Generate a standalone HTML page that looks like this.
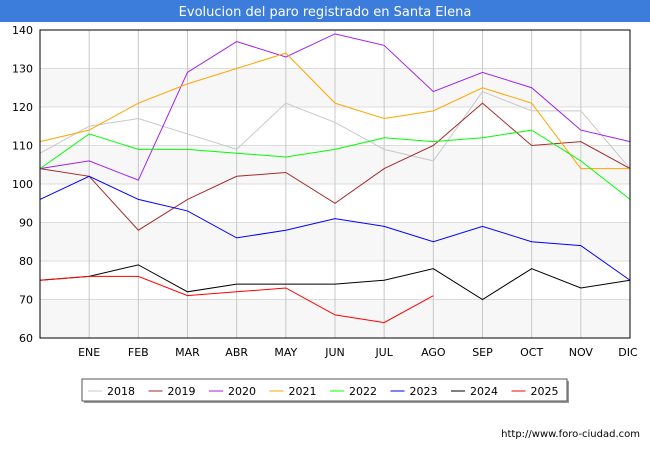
<!DOCTYPE html>
<html><head><meta charset="utf-8"><style>
body{margin:0;background:#fff;font-family:"Liberation Sans",sans-serif;}
svg text{font-family:"DejaVu Sans","Liberation Sans",sans-serif;}
</style></head><body>
<svg width="650" height="450" xmlns="http://www.w3.org/2000/svg">
<rect x="0" y="0" width="650" height="450" fill="#fff"/>
<rect x="0" y="0" width="650" height="22" fill="#3c7ddc"/>
<text x="325" y="16" text-anchor="middle" fill="#fff" font-size="13">Evolucion del paro registrado en Santa Elena</text>
<g id="bands"></g><g id="grid"></g><g id="series"></g>
<rect x="40" y="30" width="590" height="308" fill="none" stroke="#000" stroke-width="1"/>
<g id="ylabels"></g><g id="xlabels"></g>
<rect x="84" y="381" width="485" height="22" fill="#999"/>
<rect x="82" y="379" width="485" height="22" fill="#fff" stroke="#555"/>
<g id="legend"></g>
<text x="640" y="437" text-anchor="end" font-size="10" fill="#000">http://www.foro-ciudad.com</text>
</svg>
<script>
const months=["","ENE","FEB","MAR","ABR","MAY","JUN","JUL","AGO","SEP","OCT","NOV","DIC"];
const yTicks=[60,70,80,90,100,110,120,130,140];
const seriesNames=["2018","2019","2020","2021","2022","2023","2024","2025"];
const seriesColors=["#c8c8c8","#a52a2a","#a020f0","#ffa500","#00ff00","#0000ff","#000000","#ff0000"];
const s2018=[108,115,117,113,109,121,116,109,106,124,119,119,104];
const s2019=[104,102,88,96,102,103,95,104,110,121,110,111,104];
const s2020=[104,106,101,129,137,133,139,136,124,129,125,114,111];
const s2021=[111,114,121,126,130,134,121,117,119,125,121,104,104];
const s2022=[104,113,109,109,108,107,109,112,111,112,114,106,96];
const s2023=[96,102,96,93,86,88,91,89,85,89,85,84,75];
const s2024=[75,76,79,72,74,74,74,75,78,70,78,73,75];
const s2025=[75,76,76,71,72,73,66,64,71];
const allSeries=[s2018,s2019,s2020,s2021,s2022,s2023,s2024,s2025];
const NS="http://www.w3.org/2000/svg";
const X=i=>40+i*(590/12);
const Y=v=>338-(v-60)*(308/80);
function mk(tag,attrs,parent){const e=document.createElementNS(NS,tag);for(const k in attrs)e.setAttribute(k,attrs[k]);document.getElementById(parent).appendChild(e);return e;}
for(let i=0;i<yTicks.length-1;i+=2){
 const b=mk('rect',{x:40,y:Y(yTicks[i]+10),width:590,height:Y(yTicks[i])-Y(yTicks[i]+10),fill:'#f7f7f7'},'bands');
 
 
}
yTicks.forEach(v=>{
 const l=mk('line',{x1:40,x2:630,y1:Y(v),y2:Y(v),stroke:'#dcdcdc'},'grid');
 
 
 const t=mk('text',{x:33,y:Y(v)+4,'text-anchor':'end','font-size':11},'ylabels');
 t.textContent=v;
 
 
});
months.forEach((m,i)=>{
 if(i===0)return;
 const l=mk('line',{x1:X(i),x2:X(i),y1:30,y2:338,stroke:'#c8c8c8'},'grid');
 
 
 const t=mk('text',{x:i===12?X(i)-2:X(i),y:356,'text-anchor':'middle','font-size':11},'xlabels');
 t.textContent=m;
 
 
});
allSeries.forEach((s,k)=>{
 const p=mk('polyline',{points:s.map((v,i)=>X(i)+','+Y(v)).join(' '),fill:'none',stroke:seriesColors[k],'stroke-width':1},'series');
 
 
 const lx=88+k*60.5;
 const ll=mk('line',{x1:lx,x2:lx+14,y1:391,y2:391,stroke:seriesColors[k]},'legend');
 
 
 const lt=mk('text',{x:lx+19,y:395,'font-size':11},'legend');
 lt.textContent=seriesNames[k];
 
 
});
</script>
</body></html>
